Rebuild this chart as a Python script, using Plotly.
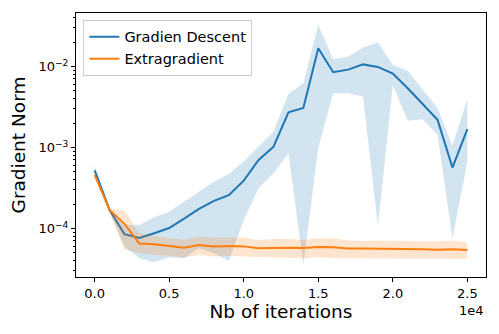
import plotly.graph_objects as go

# data (iterations, gradient norm)
iters = [i * 1000 for i in range(26)]

gd_mean = [5.2e-4, 1.69e-4, 8.5e-5, 7.6e-5, 8.7e-5, 1.01e-4, 1.32e-4, 1.74e-4, 2.19e-4, 2.57e-4,
           3.89e-4, 7.0e-4, 1.02e-3, 2.72e-3, 3.08e-3, 1.68e-2, 8.48e-3, 9.13e-3, 1.06e-2, 9.86e-3,
           8.15e-3, 5.38e-3, 3.44e-3, 2.19e-3, 5.64e-4, 1.68e-3]
gd_upper = [6.0e-4, 1.8e-4, 1.1e-4, 1.1e-4, 1.37e-4, 1.61e-4, 2.14e-4, 2.85e-4, 3.78e-4, 4.71e-4,
            6.68e-4, 1.02e-3, 1.57e-3, 4.57e-3, 6.2e-3, 3.25e-2, 1.23e-2, 1.32e-2, 1.71e-2, 1.97e-2,
            1.04e-2, 8.87e-3, 5.13e-3, 3.05e-3, 1.05e-3, 3.94e-3]
gd_lower = [4.6e-4, 1.6e-4, 6.0e-5, 4.28e-5, 3.83e-5, 4.41e-5, 4.28e-5, 5.69e-5, 4.94e-5, 3.97e-5,
            1.27e-4, 3.13e-4, 4.8e-4, 8.47e-4, 3.54e-5, 1.0e-3, 4.66e-3, 4.66e-3, 4.25e-3, 1.07e-4,
            5.91e-3, 2.14e-3, 2.23e-3, 1.43e-3, 7.57e-5, 6.68e-4]

eg_mean = [4.57e-4, 1.69e-4, 1.14e-4, 6.49e-5, 6.38e-5, 6.03e-5, 5.79e-5, 6.25e-5, 6.0e-5, 6.08e-5,
           6.0e-5, 5.69e-5, 5.79e-5, 5.79e-5, 5.74e-5, 5.9e-5, 5.85e-5, 5.64e-5, 5.64e-5, 5.64e-5,
           5.58e-5, 5.58e-5, 5.53e-5, 5.47e-5, 5.53e-5, 5.43e-5]
eg_upper = [4.9e-4, 1.75e-4, 1.66e-4, 8.7e-5, 8.07e-5, 7.57e-5, 7.21e-5, 7.92e-5, 7.7e-5, 7.75e-5,
            7.7e-5, 7.21e-5, 7.41e-5, 7.41e-5, 7.21e-5, 7.57e-5, 7.57e-5, 7.1e-5, 7.0e-5, 7.1e-5,
            7.0e-5, 6.95e-5, 6.9e-5, 6.9e-5, 7.1e-5, 6.68e-5]
eg_lower = [4.37e-4, 1.6e-4, 5.5e-5, 4.94e-5, 4.71e-5, 4.6e-5, 4.36e-5, 4.71e-5, 4.5e-5, 4.6e-5,
            4.5e-5, 4.45e-5, 4.45e-5, 4.4e-5, 4.28e-5, 4.45e-5, 4.28e-5, 4.28e-5, 4.28e-5, 4.28e-5,
            4.28e-5, 4.28e-5, 4.25e-5, 4.25e-5, 4.28e-5, 4.2e-5]

x_ticks = [0, 5000, 10000, 15000, 20000, 25000]
x_ticktext = ["0.0", "0.5", "1.0", "1.5", "2.0", "2.5"]
y_ticks = [1e-4, 1e-3, 1e-2]
y_ticktext = ["10<sup>\u22124</sup>", "10<sup>\u22123</sup>", "10<sup>\u22122</sup>"]
y_minor = [m * 10.0 ** e for e in (-5, -4, -3, -2) for m in range(2, 10)]

FONT = "DejaVu Sans"
BLUE = "#1f77b4"
ORANGE = "#ff7f0e"

fig = go.Figure()


def add_band(upper, lower, fill):
    fig.add_trace(go.Scatter(x=iters, y=upper, mode="lines", line=dict(width=0),
                             showlegend=False, hoverinfo="skip"))
    fig.add_trace(go.Scatter(x=iters, y=lower, mode="lines", line=dict(width=0),
                             fill="tonexty", fillcolor=fill, showlegend=False, hoverinfo="skip"))


fig.add_trace(go.Scatter(x=iters, y=gd_mean, mode="lines", line=dict(color=BLUE, width=2),
                         name="Gradien Descent"))
add_band(gd_upper, gd_lower, "rgba(31,119,180,0.2)")
fig.add_trace(go.Scatter(x=iters, y=eg_mean, mode="lines", line=dict(color=ORANGE, width=2),
                         name="Extragradient"))
add_band(eg_upper, eg_lower, "rgba(255,127,14,0.2)")

# the page body adds an 8px margin, so the figure is 8px smaller than the window
fig.update_layout(
    width=491, height=326,
    margin=dict(l=68, r=13, t=5, b=57),
    plot_bgcolor="white", paper_bgcolor="white",
    font=dict(family=FONT, color="black", size=13),
    legend=dict(x=0.018, y=0.974, xanchor="left", yanchor="top", traceorder="normal",
                bgcolor="rgba(255,255,255,0.8)", bordercolor="#cccccc", borderwidth=1,
                font=dict(size=14.5, family=FONT)),
    xaxis=dict(range=[-1250, 26250], tickvals=x_ticks, ticktext=x_ticktext, automargin=False,
               showgrid=False, zeroline=False, showline=True, mirror=True,
               linecolor="black", linewidth=1, ticks="outside", ticklen=4, tickcolor="black",
               tickfont=dict(size=13),
               title=dict(text="Nb of iterations", font=dict(size=18.5), standoff=4)),
    yaxis=dict(type="log", range=[-4.6, -1.34], tickvals=y_ticks, ticktext=y_ticktext,
               automargin=False,
               showgrid=False, zeroline=False, showline=True, mirror=True,
               linecolor="black", linewidth=1, ticks="outside", ticklen=4, tickcolor="black",
               tickfont=dict(size=13),
               minor=dict(tickvals=y_minor, ticks="outside", ticklen=2, tickcolor="black", showgrid=False),
               title=dict(text="Gradient Norm", font=dict(size=18.5), standoff=10)),
)

fig.add_annotation(text="1e4", xref="paper", yref="paper", x=1.0, y=-0.127,
                   xanchor="right", yanchor="middle", showarrow=False, font=dict(size=13))

fig.write_html("out.html")
